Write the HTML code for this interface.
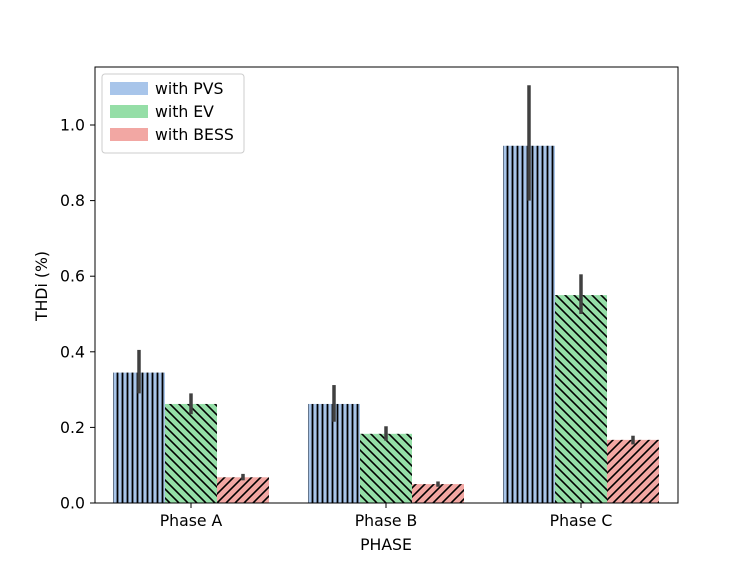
<!DOCTYPE html>
<html><head><meta charset="utf-8"><style>
body{margin:0;background:#fff;}
svg text{font-family:"DejaVu Sans","Liberation Sans",sans-serif;font-size:15.7px;fill:#000;}
</style></head><body>
<svg id="chart" width="753" height="565">
<defs>
<pattern id="hv" patternUnits="userSpaceOnUse" width="5" height="10"><line x1="2.5" y1="0" x2="2.5" y2="10" stroke="#000" stroke-width="1.8"/></pattern>
<pattern id="hb" patternUnits="userSpaceOnUse" width="9" height="9"><path d="M-2,-2 L11,11 M-2,7 L2,11 M7,-2 L11,2" stroke="#000" stroke-width="1.6"/></pattern>
<pattern id="hf" patternUnits="userSpaceOnUse" width="9" height="9"><path d="M-2,11 L11,-2 M-2,2 L2,-2 M7,11 L11,7" stroke="#000" stroke-width="1.6"/></pattern>
</defs>
<g id="bars"></g>
<g id="axes"></g>
</svg>
<script>
const categories=["Phase A","Phase B","Phase C"];
const seriesNames=["with PVS","with EV","with BESS"];
const pvs=[0.345,0.262,0.945];
const ev=[0.262,0.183,0.550];
const bess=[0.068,0.050,0.167];
const pvsErr=[[0.29,0.405],[0.215,0.312],[0.80,1.105]];
const evErr=[[0.235,0.29],[0.165,0.203],[0.50,0.605]];
const bessErr=[[0.06,0.077],[0.043,0.057],[0.155,0.178]];
const yTicks=[0,0.2,0.4,0.6,0.8,1.0];

const L=95,R=678,T=67,B=503;
const y=v=>B-v*378;
const xc=i=>191+i*195;
const NS="http://www.w3.org/2000/svg";
function mk(t,a,p){const e=document.createElementNS(NS,t);for(const k in a)e.setAttribute(k,a[k]);p.appendChild(e);return e;}
const bars=document.getElementById('bars'),axes=document.getElementById('axes');
const series=[pvs,ev,bess],errs=[pvsErr,evErr,bessErr];
const colors=["#a8c5ea","#95dea7","#f2a7a3"],pats=["hv","hb","hf"];
const bw=52;
series.forEach((s,j)=>{s.forEach((v,i)=>{
  const x0=xc(i)-78+j*bw;
  const r=mk('rect',{x:x0,y:y(v),width:bw,height:y(0)-y(v),fill:colors[j]},bars);
  
  
  mk('rect',{x:x0,y:y(v),width:bw,height:y(0)-y(v),fill:'url(#'+pats[j]+')'},bars);
  const e=mk('line',{x1:x0+bw/2,x2:x0+bw/2,y1:y(errs[j][i][0]),y2:y(errs[j][i][1]),stroke:'#404040','stroke-width':3.5},bars);
  
  
});});
const fr=mk('rect',{x:L,y:T,width:R-L,height:B-T,fill:'none',stroke:'#000','stroke-width':1},axes);


yTicks.forEach(t=>{
  mk('line',{x1:L-5,x2:L,y1:y(t),y2:y(t),stroke:'#000'},axes);
  const tx=mk('text',{x:L-10,y:y(t)+5.5,'text-anchor':'end'},axes);tx.textContent=t.toFixed(1);
  
  
});
categories.forEach((c,i)=>{
  mk('line',{x1:xc(i),x2:xc(i),y1:B,y2:B+5,stroke:'#000'},axes);
  const tx=mk('text',{x:xc(i),y:B+23,'text-anchor':'middle'},axes);tx.textContent=c;
  
  
});
let t=mk('text',{x:386,y:550,'text-anchor':'middle'},axes);t.textContent="PHASE";


t=mk('text',{x:47,y:286,'text-anchor':'middle',transform:'rotate(-90 47 286)'},axes);t.textContent="THDi (%)";


const lg=mk('g',{},axes);


mk('rect',{x:102,y:74,width:142,height:79,rx:3,fill:'#fff',stroke:'#ccc'},lg);
seriesNames.forEach((n,j)=>{
  const yy=82+j*23;
  const sw=mk('rect',{x:110,y:yy,width:38,height:13,fill:colors[j]},lg);
  
  
  const tx=mk('text',{x:155,y:yy+12},lg);tx.textContent=n;
  
  
});
</script>
</body></html>
